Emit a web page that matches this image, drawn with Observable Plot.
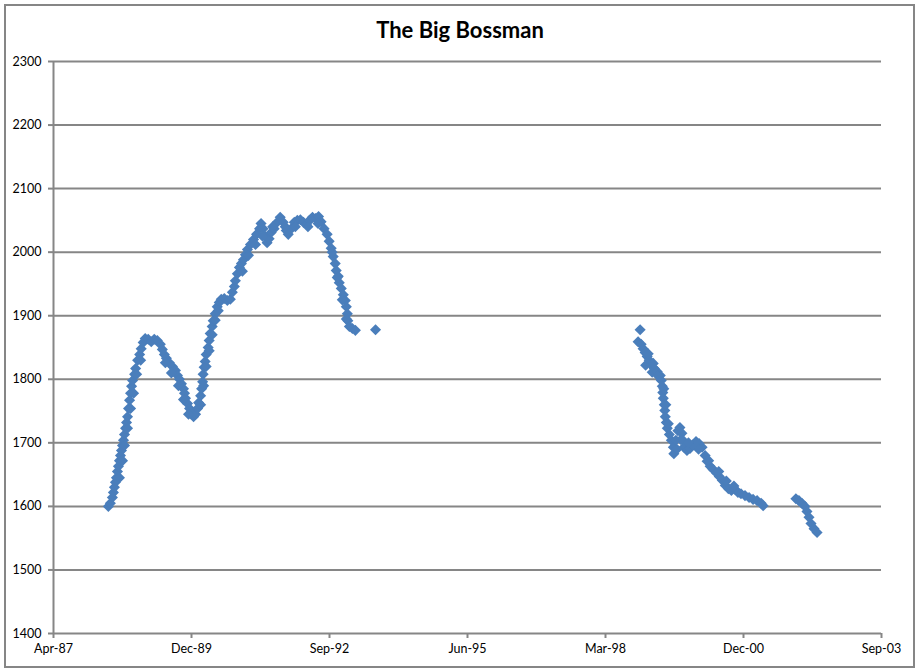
<!DOCTYPE html>
<html>
<head>
<meta charset="utf-8">
<script src="https://cdn.jsdelivr.net/npm/d3@7"></script>
<script src="https://cdn.jsdelivr.net/npm/@observablehq/plot@0.6"></script>
<style>
  html, body { margin: 0; padding: 0; background: #fff; }
  #wrap { position: relative; width: 920px; height: 671px; overflow: hidden; }
  #border { position: absolute; left: 4px; top: 4px; width: 911px; height: 664px; box-sizing: border-box; border: 2px solid #868686; }
  #title { position: absolute; left: 0; width: 920px; top: 16px; text-align: center; font-family: Lato, "Open Sans", sans-serif; font-weight: bold; font-size: 22px; color: #000; }
  #chart { position: absolute; left: 0; top: 0; }
</style>
</head>
<body>
<div id="wrap">
  <div id="border"></div>
  <div id="chart"></div>
  <div id="title">The Big Bossman</div>
</div>
<script>
// Dates as decimal years
const years = [
  1988.34,1988.38,1988.42,1988.44,1988.46,1988.48,1988.50,1988.52,1988.54,1988.56,
  1988.58,1988.60,1988.62,1988.64,1988.66,1988.68,1988.70,1988.72,1988.74,1988.76,
  1988.78,1988.80,1988.82,1988.86,1988.88,1988.92,1988.96,1988.99,1989.03,1989.07,
  1989.13,1989.19,1989.25,1989.31,1989.37,1989.41,1989.45,1989.49,1989.55,1989.61,
  1989.67,1989.71,1989.75,1989.79,1989.83,1989.85,1989.87,1989.91,1989.95,1989.99,
  1990.03,1990.07,1990.11,1990.13,1990.17,1990.19,1990.21,1990.22,1990.24,1990.26,
  1990.28,1990.32,1990.34,1990.36,1990.40,1990.42,1990.46,1990.50,1990.54,1990.58,
  1990.64,1990.70,1990.76,1990.80,1990.84,1990.86,1990.90,1990.94,1990.98,1991.02,
  1991.06,1991.10,1991.16,1991.22,1991.28,1991.34,1991.37,1991.41,1991.45,1991.49,
  1991.53,1991.57,1991.63,1991.69,1991.75,1991.81,1991.87,1991.91,1991.97,1992.03,
  1992.09,1992.15,1992.21,1992.27,1992.33,1992.39,1992.45,1992.51,1992.56,1992.62,
  1992.68,1992.72,1992.76,1992.80,1992.84,1992.86,1992.90,1992.92,1992.96,1993.00,
  1993.04,1993.06,1993.08,1993.09,1993.12,1993.18,1993.24,1993.64,
  1988.56,1988.62,1988.66,1988.72,1988.78,1988.84,1988.90,1988.98,
  1989.47,1989.59,1989.73,1989.83,1989.93,
  1990.17,1990.23,1990.28,1990.34,1990.40,1990.46,1990.52,
  1991.00,1991.12,1991.26,1991.40,1991.60,1991.85,1992.05,1992.30,1992.50,
  1992.78,1992.88,1992.98,1993.06,
  1998.89,1998.85,1998.91,1998.95,1998.99,1999.00,1999.03,1999.07,1999.11,1999.13,
  1999.17,1999.23,1999.29,1999.31,1999.33,1999.34,1999.35,1999.37,1999.38,1999.39,
  1999.41,1999.43,1999.47,1999.51,1999.55,1999.56,1999.60,1999.64,1999.68,1999.72,
  1999.74,1999.76,1999.82,1999.88,1999.94,2000.00,2000.06,2000.12,2000.18,2000.22,
  2000.28,2000.34,2000.40,2000.46,2000.52,2000.58,2000.64,2000.70,2000.77,2000.83,
  2000.89,2000.97,2001.05,2001.13,2001.21,2001.29,2001.33,
  1999.05,1999.15,1999.25,1999.36,1999.40,1999.45,1999.62,1999.70,1999.85,2000.05,
  2000.25,2000.45,2000.60,2000.75,
  2001.98,2002.04,2002.10,2002.16,2002.20,2002.24,2002.28,2002.34,2002.40
];
const values = [
  1600,1605,1614,1622,1630,1638,1645,1655,1663,1672,
  1680,1688,1696,1704,1713,1723,1732,1741,1754,1767,
  1778,1789,1798,1808,1817,1830,1839,1848,1858,1864,
  1863,1859,1863,1861,1855,1847,1839,1833,1826,1820,
  1814,1806,1800,1793,1785,1778,1770,1762,1754,1748,
  1741,1745,1754,1763,1774,1785,1796,1808,1819,1828,
  1839,1850,1861,1872,1883,1892,1903,1914,1921,1926,
  1927,1924,1926,1937,1946,1955,1966,1976,1982,1988,
  1996,2004,2012,2020,2028,2037,2045,2037,2025,2015,
  2021,2031,2037,2047,2055,2047,2034,2028,2037,2047,
  2050,2051,2047,2044,2050,2055,2053,2056,2048,2037,
  2028,2017,2006,1993,1982,1971,1962,1952,1943,1933,
  1924,1914,1903,1892,1883,1880,1877,1878,
  1645,1672,1696,1723,1754,1778,1808,1830,
  1826,1810,1790,1768,1745,
  1760,1790,1820,1845,1870,1893,1908,
  1970,1995,2012,2025,2040,2040,2040,2040,2045,
  2000,1960,1925,1895,
  1878,1859,1855,1848,1842,1822,1836,1830,1823,1811,
  1817,1812,1806,1798,1789,1779,1770,1760,1751,1741,
  1732,1723,1713,1704,1693,1683,1704,1719,1724,1715,
  1704,1693,1688,1691,1697,1702,1699,1693,1680,1671,
  1663,1658,1653,1647,1641,1633,1628,1625,1627,1622,
  1620,1617,1614,1611,1609,1605,1601,
  1840,1825,1805,1785,1760,1730,1690,1705,1700,1690,
  1672,1655,1640,1632,
  1612,1609,1605,1600,1592,1583,1573,1565,1559
];
const yTicks = [1400,1500,1600,1700,1800,1900,2000,2100,2200,2300];
const xTickLabels = ["Apr-87","Dec-89","Sep-92","Jun-95","Mar-98","Dec-00","Sep-03"];
const xStart = Date.UTC(1987, 3, 3);
const xStepDays = 1000;

function toDate(y) {
  const yr = Math.floor(y);
  const s = Date.UTC(yr, 0, 1), e = Date.UTC(yr + 1, 0, 1);
  return new Date(s + (y - yr) * (e - s));
}
const data = years.map((y, i) => ({date: toDate(y), value: values[i]}));
const xTicks = xTickLabels.map((_, k) => new Date(xStart + k * xStepDays * 864e5));
const labelOf = new Map(xTicks.map((d, i) => [+d, xTickLabels[i]]));

const gray = "#868686";
const chart = Plot.plot({
  width: 920,
  height: 671,
  marginLeft: 53,
  marginRight: 39,
  marginTop: 61,
  marginBottom: 38,
  style: {fontFamily: "Lato, 'Open Sans', sans-serif", fontSize: "12.5px", color: "#000", background: "transparent"},
  x: {type: "utc", domain: [xTicks[0], xTicks[xTicks.length - 1]]},
  y: {domain: [1400, 2300]},
  marks: [
    Plot.ruleY(yTicks, {stroke: gray, strokeWidth: 2}),
    Plot.axisY({ticks: yTicks, tickFormat: d => String(d), tickSize: 5, tickPadding: 7, stroke: gray, strokeWidth: 2, label: null, fill: "#000"}),
    Plot.axisX({ticks: xTicks, tickFormat: d => labelOf.get(+d), tickSize: 5, tickPadding: 6, stroke: gray, strokeWidth: 2, label: null, fill: "#000"}),
    Plot.ruleX([xTicks[0]], {stroke: gray, strokeWidth: 2}),
    Plot.dot(data, {x: "date", y: "value", symbol: "diamond2", r: 5, fill: "#4a7ebb", stroke: "none"})
  ]
});
document.getElementById("chart").appendChild(chart);
</script>
</body>
</html>
